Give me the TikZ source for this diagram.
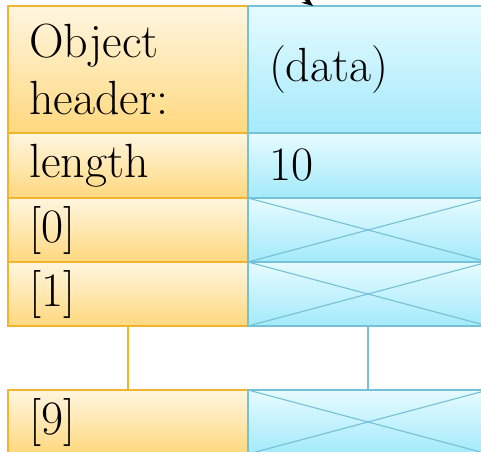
\documentclass[tikz,border=0pt]{standalone}
\usepackage{tikz}
\usetikzlibrary{positioning,arrows.meta}
\definecolor{keytop}{HTML}{FFF6E0}
\definecolor{keybot}{HTML}{FFD87E}
\definecolor{keyline}{HTML}{F2B42C}
\definecolor{valtop}{HTML}{E6FBFF}
\definecolor{valbot}{HTML}{A4EAFA}
\definecolor{valline}{HTML}{74C2D8}

\begin{document}
\begin{tikzpicture}[x=1pt,y=1pt,
  cell/.style={rectangle, line width=1.3pt, minimum width=240pt, text width=198pt,
    align=left, inner xsep=21pt, inner ysep=0pt, outer sep=0pt,
    font=\fontsize{48}{57}\selectfont},
  keycell/.style={cell, draw=keyline, top color=keytop, bottom color=keybot},
  valcell/.style={cell, draw=valline, top color=valtop, bottom color=valbot},
  unused/.style={valline, line width=1.1pt}]
\clip (0,0) rectangle (481,-451);

% header and length
\node[keycell, minimum height=127pt, anchor=north west] (hdr) at (8,-6) {Object\\header:};
\node[valcell, minimum height=127pt, right=0pt of hdr] (hdrval) {(data)};
\node[keycell, minimum height=65pt, below=0pt of hdr] (len) {length};
\node[valcell, minimum height=65pt, right=0pt of len] (lenval) {10};

% elements
\node[keycell, minimum height=64pt, below=0pt of len] (k0) {[0]};
\node[valcell, minimum height=64pt, right=0pt of k0] (v0) {};
\node[keycell, minimum height=64pt, below=0pt of k0] (k1) {[1]};
\node[valcell, minimum height=64pt, right=0pt of k1] (v1) {};
\node[keycell, minimum height=64pt, below=64pt of k1] (k9) {[9]};
\node[valcell, minimum height=64pt, right=0pt of k9] (v9) {};

\foreach \v in {v0,v1,v9} {
  \draw[unused] (\v.north west) -- (\v.south east);
  \draw[unused] (\v.south west) -- (\v.north east);
}
\draw[keyline, line width=1.2pt] (k1.south) -- (k9.north);
\draw[valline, line width=1.2pt] (v1.south) -- (v9.north);

% incoming reference
\coordinate (reftail) at (280,20);
\coordinate (reftip) at (313,-6);
\draw[-{Stealth[length=11pt,width=9pt]}, line width=1.2pt] (reftail) -- (reftip);
\end{tikzpicture}
\end{document}
